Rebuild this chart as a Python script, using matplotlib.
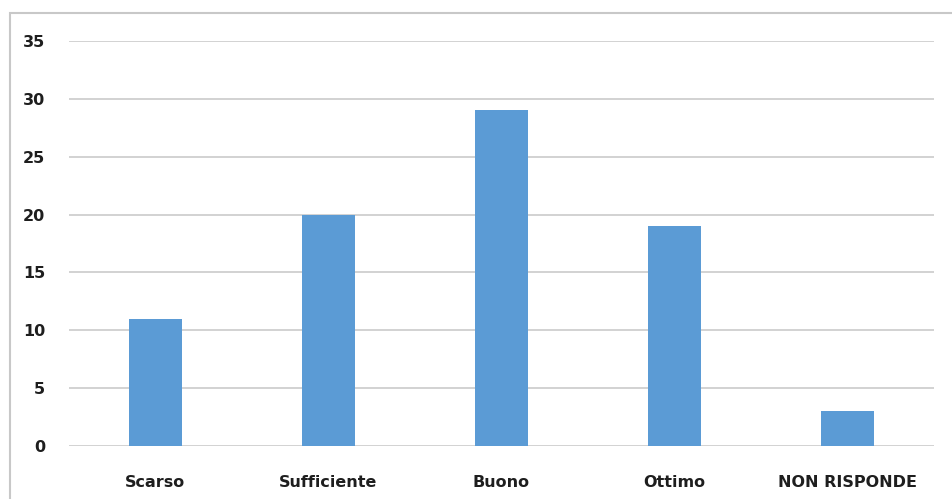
import matplotlib
matplotlib.use("Agg")
import matplotlib.pyplot as plt
from matplotlib.patches import Rectangle

# data
categories = ["Scarso", "Sufficiente", "Buono", "Ottimo", "NON RISPONDE"]
values = [11, 20, 29, 19, 3]
yticks = [0, 5, 10, 15, 20, 25, 30, 35]

plt.rcParams['font.family'] = ['DejaVu Sans']

fig = plt.figure(figsize=(9.53, 4.99), dpi=100)
ax = fig.add_axes([0.0724, 0.1062, 0.9076, 0.8116])

# chart border
fig.patches.append(Rectangle((10 / 953, -0.05), 1.0, 1 - 13 / 499 + 0.05,
                             transform=fig.transFigure, fill=False,
                             edgecolor="#c8c8c8", linewidth=1.5))

x = range(len(categories))
ax.bar(x, values, width=0.31, color="#5b9bd5", zorder=3)

ax.set_xlim(-0.5, len(categories) - 0.5)
ax.set_ylim(0, 35)
ax.set_yticks(yticks)
ax.set_xticks(list(x))
ax.set_xticklabels(categories, fontsize=11.5, fontweight="bold")
ax.set_yticklabels([str(t) for t in yticks], fontsize=11.5, fontweight="bold")
ax.yaxis.grid(True, color="#cfcfcf", linewidth=1.3, zorder=0)
ax.tick_params(axis="both", length=0, colors="#1e1e1e")
ax.tick_params(axis="x", pad=21)
ax.tick_params(axis="y", pad=17)
for s in ax.spines.values():
    s.set_visible(False)

fig.savefig("out.png", dpi=100)
